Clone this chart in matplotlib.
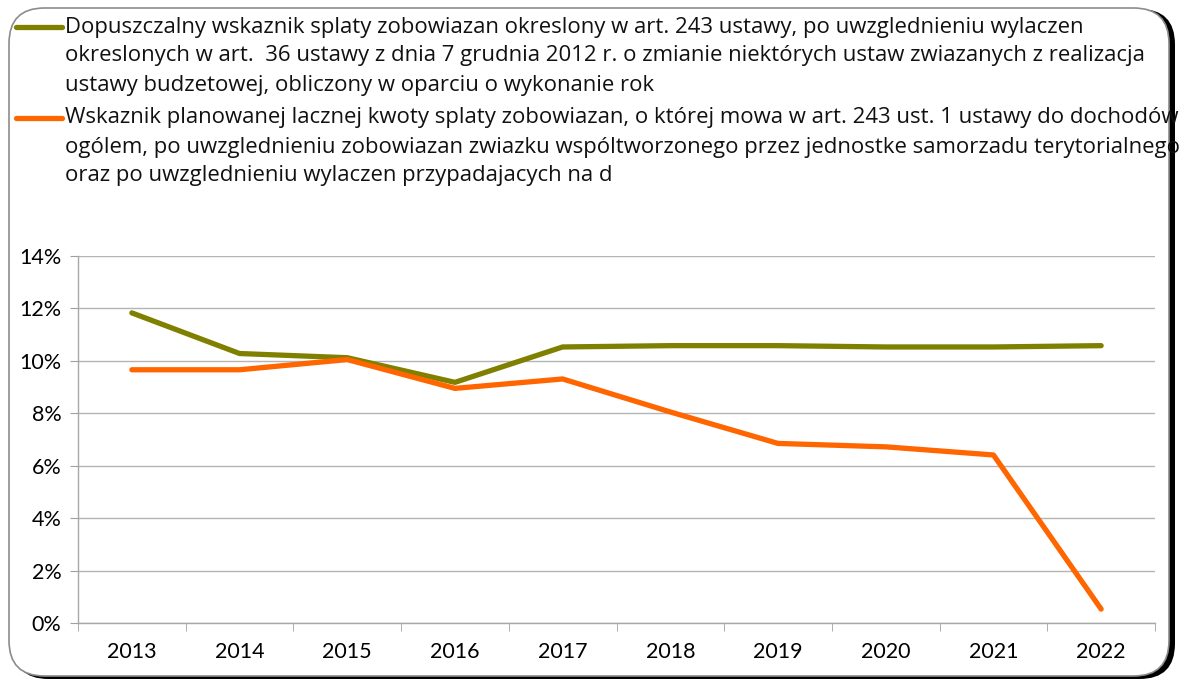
import matplotlib
matplotlib.use("Agg")
import matplotlib.pyplot as plt
from matplotlib.patches import FancyBboxPatch
from matplotlib.lines import Line2D
import numpy as np

years = ["2013", "2014", "2015", "2016", "2017", "2018", "2019", "2020", "2021", "2022"]
allowed = [11.83, 10.28, 10.12, 9.18, 10.53, 10.58, 10.58, 10.53, 10.53, 10.58]
planned = [9.66, 9.66, 10.05, 8.95, 9.31, 8.05, 6.85, 6.72, 6.41, 0.53]
yticks = [0, 2, 4, 6, 8, 10, 12, 14]
legend_labels = [
    ["Dopuszczalny wskaznik splaty zobowiazan okreslony w art. 243 ustawy, po uwzglednieniu wylaczen",
     "okreslonych w art.  36 ustawy z dnia 7 grudnia 2012 r. o zmianie niektórych ustaw zwiazanych z realizacja",
     "ustawy budzetowej, obliczony w oparciu o wykonanie rok"],
    ["Wskaznik planowanej lacznej kwoty splaty zobowiazan, o której mowa w art. 243 ust. 1 ustawy do dochodów",
     "ogólem, po uwzglednieniu zobowiazan zwiazku wspóltworzonego przez jednostke samorzadu terytorialnego",
     "oraz po uwzglednieniu wylaczen przypadajacych na d"],
]
colors = ["#808000", "#FF6600"]

plt.rcParams['font.family'] = ['Lato', 'DejaVu Sans']

W, H = 1181, 683
fig = plt.figure(figsize=(W / 100, H / 100), dpi=100)

# frame with shadow
shadow = FancyBboxPatch((13 / W, 4 / H), 1162 / W, 670 / H,
                        boxstyle="round,pad=0,rounding_size=0.03",
                        transform=fig.transFigure, facecolor="#000000",
                        edgecolor="none", mutation_aspect=W / H, zorder=0)
fig.patches.append(shadow)
frame = FancyBboxPatch((9 / W, 7 / H), 1160 / W, 668 / H,
                       boxstyle="round,pad=0,rounding_size=0.03",
                       transform=fig.transFigure, facecolor="white",
                       edgecolor="#8c8c8c", linewidth=1.2, mutation_aspect=W / H, zorder=1)
fig.patches.append(frame)

ax = fig.add_axes([78 / W, 1 - 623 / H, (1155 - 78) / W, (623 - 256) / H])
ax.set_zorder(2)
ax.patch.set_alpha(0)
x = np.arange(len(years))
ax.plot(x, allowed, color=colors[0], lw=3.8, solid_capstyle="round", solid_joinstyle="round", zorder=3)
ax.plot(x, planned, color=colors[1], lw=3.8, solid_capstyle="round", solid_joinstyle="round", zorder=4)

ax.set_xlim(-0.5, len(years) - 0.5)
ax.set_ylim(0, 14)
ax.set_yticks(yticks)
ax.set_yticklabels([f"{v}%" for v in yticks], fontsize=15.5)
ax.set_xticks(x)
ax.set_xticklabels(years, fontsize=15.5)
ax.set_xticks(np.arange(len(years) + 1) - 0.5, minor=True)
ax.tick_params(axis="x", which="major", length=0, pad=14)
ax.tick_params(axis="x", which="minor", length=6, color="#a0a0a0", direction="out")
ax.tick_params(axis="y", which="major", length=6, color="#a0a0a0", direction="out", pad=6)
ax.grid(axis="y", color="#b4b4b4", linewidth=1)
ax.set_axisbelow(True)
for s in ["top", "right"]:
    ax.spines[s].set_visible(False)
for s in ["left", "bottom"]:
    ax.spines[s].set_color("#a8a8a8")
    ax.spines[s].set_linewidth(1)

# legend (font size fitted so the first line spans the reference width)
leg_font = ['Open Sans', 'DejaVu Sans']
renderer = fig.canvas.get_renderer()
probe = fig.text(0, 0, legend_labels[0][0], fontsize=13, family=leg_font)
w13 = probe.get_window_extent(renderer).width
probe.remove()
fs = 13 * 1015 / w13

starts = [27, 118]
for i, (lines, c) in enumerate(zip(legend_labels, colors)):
    y0 = starts[i]
    fig.add_artist(Line2D([16 / W, 62 / W], [1 - y0 / H, 1 - y0 / H], color=c, lw=3.8,
                          solid_capstyle="round", transform=fig.transFigure, zorder=5))
    for j, t in enumerate(lines):
        fig.text(65 / W, 1 - (y0 + j * 29) / H, t, fontsize=fs, va="center", ha="left",
                 color="#111111", zorder=5, family=leg_font)

fig.savefig("out.png", dpi=100)
